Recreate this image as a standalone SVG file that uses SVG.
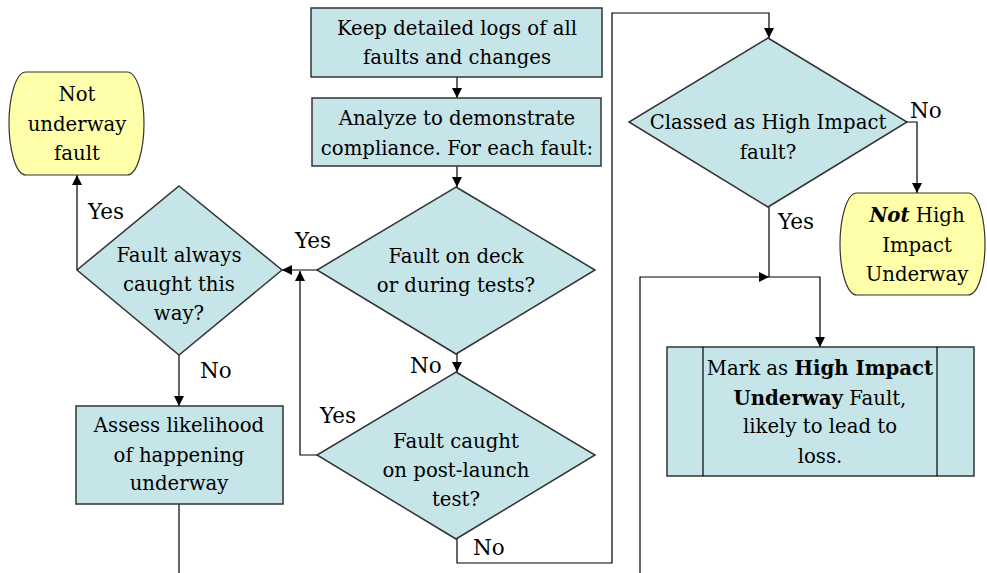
<svg xmlns="http://www.w3.org/2000/svg" width="987" height="573" viewBox="0 0 987 573">
<style>
text{font-family:'DejaVu Serif',serif;font-size:19.7px;fill:#000;text-anchor:middle}
.lbl{text-anchor:start;font-size:21.5px}
.box{fill:#C6E5E9;stroke:#333;stroke-width:1.5}
.term{fill:#FFFFAA;stroke:#333;stroke-width:1.2}
.ln{fill:none;stroke:#000;stroke-width:1.2}
</style>
<defs>
<marker id="ah" viewBox="0 0 10 10" refX="10" refY="5" markerWidth="10" markerHeight="10" markerUnits="userSpaceOnUse" orient="auto">
<path d="M0,0 L10,5 L0,10 Z" fill="#000"/>
</marker>
</defs>
<g id="connectors">
<line class="ln" x1="457" y1="77" x2="457" y2="98" marker-end="url(#ah)"/>
<line class="ln" x1="457" y1="166" x2="457" y2="187" marker-end="url(#ah)"/>
<line class="ln" x1="457" y1="354" x2="457" y2="372" marker-end="url(#ah)"/>
<line class="ln" x1="317" y1="270" x2="282" y2="270" marker-end="url(#ah)"/>
<polyline class="ln" points="317,455 300,455 300,271" marker-end="url(#ah)"/>
<polyline class="ln" points="77,270 77,175" marker-end="url(#ah)"/>
<line class="ln" x1="179" y1="355" x2="179" y2="406" marker-end="url(#ah)"/>
<line class="ln" x1="179" y1="504" x2="179" y2="573"/>
<polyline class="ln" points="457,539 457,563 612,563 612,13 769,13 769,38" marker-end="url(#ah)"/>
<polyline class="ln" points="907,122 917,122 917,193" marker-end="url(#ah)"/>
<line class="ln" x1="769" y1="207" x2="769" y2="277"/>
<polyline class="ln" points="640,573 640,277 769,277" marker-end="url(#ah)"/>
<polyline class="ln" points="769,277 820,277 820,347" marker-end="url(#ah)"/>
<text class="lbl" x="88" y="219">Yes</text>
<text class="lbl" x="295" y="248">Yes</text>
<text class="lbl" x="320" y="423">Yes</text>
<text class="lbl" x="410" y="373">No</text>
<text class="lbl" x="473" y="555">No</text>
<text class="lbl" x="200" y="378">No</text>
<text class="lbl" x="910" y="118">No</text>
<text class="lbl" x="778" y="229">Yes</text>
</g>
<g id="n1">
<rect class="box" x="311" y="8" width="291" height="69"/>
<text x="457" y="35">Keep detailed logs of all</text>
<text x="457" y="64">faults and changes</text>
</g>
<g id="n2">
<rect class="box" x="312" y="98" width="289" height="68"/>
<text x="457" y="125">Analyze to demonstrate</text>
<text x="457" y="155">compliance. For each fault:</text>
</g>
<g id="n3">
<polygon class="box" points="456,187 595,270 456,354 317,270"/>
<text x="456" y="263">Fault on deck</text>
<text x="456" y="292">or during tests?</text>
</g>
<g id="n4">
<polygon class="box" points="456,372 595,455 456,539 317,455"/>
<text x="456" y="448">Fault caught</text>
<text x="456" y="477">on post-launch</text>
<text x="456" y="506">test?</text>
</g>
<g id="n5">
<polygon class="box" points="179,186 282,270 179,355 77,270"/>
<text x="179" y="262">Fault always</text>
<text x="179" y="291">caught this</text>
<text x="179" y="320">way?</text>
</g>
<g id="n6">
<path class="term" d="M26,72 H127 C138,72 144,100 144,123 C144,147 138,175 127,175 H26 C15,175 9,147 9,123 C9,100 15,72 26,72 Z"/>
<text x="77" y="101">Not</text>
<text x="77" y="131">underway</text>
<text x="77" y="160">fault</text>
</g>
<g id="n7">
<rect class="box" x="76" y="406" width="207" height="98"/>
<text x="179" y="432">Assess likelihood</text>
<text x="179" y="462">of happening</text>
<text x="179" y="490">underway</text>
</g>
<g id="n8">
<polygon class="box" points="768,38 907,122 768,207 629,122"/>
<text x="768" y="129">Classed as High Impact</text>
<text x="768" y="159">fault?</text>
</g>
<g id="n9">
<path class="term" d="M857,193 H968 C979,193 985,221 985,244 C985,268 979,295 968,295 H857 C846,295 840,268 840,244 C840,221 846,193 857,193 Z"/>
<text x="917" y="222"><tspan font-weight="bold" font-style="italic">Not</tspan> High</text>
<text x="917" y="252">Impact</text>
<text x="917" y="281">Underway</text>
</g>
<g id="n10">
<rect class="box" x="667" y="347" width="307" height="129"/>
<line class="ln" x1="703" y1="347" x2="703" y2="476" stroke="#333"/>
<line class="ln" x1="937" y1="347" x2="937" y2="476" stroke="#333"/>
<text x="820" y="375">Mark as <tspan font-weight="bold">High Impact</tspan></text>
<text x="820" y="405"><tspan font-weight="bold">Underway</tspan> Fault,</text>
<text x="820" y="433">likely to lead to</text>
<text x="820" y="463">loss.</text>
</g>
</svg>
